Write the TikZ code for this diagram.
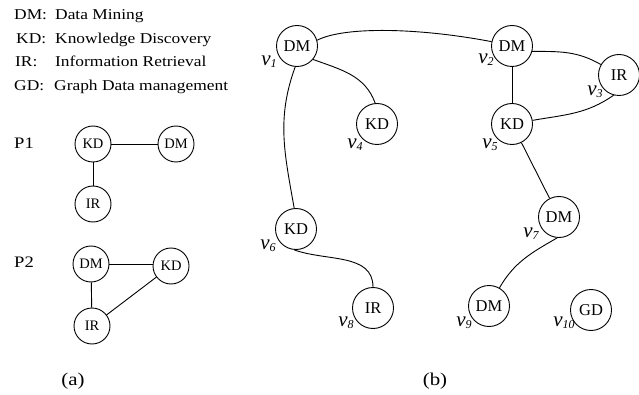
\documentclass[tikz,border=0pt]{standalone}
\usepackage{graphicx}
\usepackage{fontspec}
\setmainfont{Liberation Serif}
\newcommand\widetxt[1]{\scalebox{1.16}[1]{#1}}
\begin{document}
\begin{tikzpicture}[x=1pt,y=-1pt,
  bnode/.style={draw,circle,line width=0.9pt,minimum size=41pt,inner sep=0pt,font=\fontsize{16.5}{16.5}\selectfont},
  anode/.style={draw,circle,line width=0.9pt,minimum size=36pt,inner sep=0pt,font=\fontsize{14.5}{14.5}\selectfont},
  edge/.style={line width=0.9pt},
  txt/.style={anchor=base west,inner sep=0pt,font=\fontsize{15}{15}\selectfont},
  vlab/.style={inner sep=0pt,font=\fontsize{21}{21}\selectfont\itshape}]
\useasboundingbox (0,0) rectangle (639,395);
% legend
\node[txt] (l1a) at (14,20) {\widetxt{DM:}};
\node[txt] (l1b) at (55,20) {\widetxt{Data Mining}};
\node[txt] (l2a) at (16,43.5) {\widetxt{KD:}};
\node[txt] (l2b) at (55,43.5) {\widetxt{Knowledge Discovery}};
\node[txt] (l3a) at (15,67) {\widetxt{IR:}};
\node[txt] (l3b) at (55,67) {\widetxt{Information Retrieval}};
\node[txt] (l4a) at (14,90.5) {\widetxt{GD:}};
\node[txt] (l4b) at (54,90.5) {\widetxt{Graph Data management}};
% (a)
\node[inner sep=0pt,font=\fontsize{16}{16}\selectfont] (p1) at (24,143) {\widetxt{P1}};
\node[inner sep=0pt,font=\fontsize{16}{16}\selectfont] (p2) at (24,262) {\widetxt{P2}};
\node[anode] (a1kd) at (93,144) {KD};
\node[anode] (a1dm) at (176,144) {DM};
\node[anode] (a1ir) at (93,204) {IR};
\node[anode] (a2dm) at (91,264) {DM};
\node[anode] (a2kd) at (171,266) {KD};
\node[anode] (a2ir) at (92,326) {IR};
\draw[edge] (a1kd) -- (a1dm);
\draw[edge] (a1kd) -- (a1ir);
\draw[edge] (a2dm.east) -- (a2kd.west |- a2dm.east);
\draw[edge] (a2dm) -- (a2ir);
\draw[edge] (a2kd) -- (a2ir);
\node[inner sep=0pt,font=\fontsize{18}{18}\selectfont] (capa) at (73,381) {\widetxt{(a)}};
% (b)
\node[bnode] (v1) at (297,46) {DM};
\node[bnode] (v2) at (512,46) {DM};
\node[bnode] (v3) at (619,75) {IR};
\node[bnode] (v4) at (377,124) {KD};
\node[bnode] (v5) at (512,124) {KD};
\node[bnode] (v6) at (296,229) {KD};
\node[bnode] (v7) at (559,217) {DM};
\node[bnode] (v8) at (373,308) {IR};
\node[bnode] (v9) at (489,306) {DM};
\node[bnode] (v10) at (591,310) {GD};
\node[vlab] (t1) at (269,62) {v\raisebox{-0.2ex}{\fontsize{12}{12}\selectfont 1}};
\node[vlab] (t2) at (486,60) {v\raisebox{-0.2ex}{\fontsize{12}{12}\selectfont 2}};
\node[vlab] (t3) at (595,92) {v\raisebox{-0.2ex}{\fontsize{12}{12}\selectfont 3}};
\node[vlab] (t4) at (355,145) {v\raisebox{-0.2ex}{\fontsize{12}{12}\selectfont 4}};
\node[vlab] (t5) at (490,145) {v\raisebox{-0.2ex}{\fontsize{12}{12}\selectfont 5}};
\node[vlab] (t6) at (268,246) {v\raisebox{-0.2ex}{\fontsize{12}{12}\selectfont 6}};
\node[vlab] (t7) at (531,234) {v\raisebox{-0.2ex}{\fontsize{12}{12}\selectfont 7}};
\node[vlab] (t8) at (346,323) {v\raisebox{-0.2ex}{\fontsize{12}{12}\selectfont 8}};
\node[vlab] (t9) at (464,323) {v\raisebox{-0.2ex}{\fontsize{12}{12}\selectfont 9}};
\node[vlab] (t10) at (564,323) {v\raisebox{-0.2ex}{\fontsize{12}{12}\selectfont 10}};
\draw[edge] (v1.16) .. controls (345,26) and (420,28) .. (v2.168);
\draw[edge] (v2.-15) to[out=0,in=150] (v3.150);
\draw[edge] (v2) -- (v5);
\draw[edge] (v3.-105) to[out=-145,in=10] (v5.10);
\draw[edge] (v1.-40) to[out=-20,in=110] (v4.95);
\draw[edge] (v1.-95) to[out=-110,in=100] (v6.95);
\draw[edge] (v6.-95) to[out=-20,in=90] (v8.90);
\draw[edge] (v5) -- (v7);
\draw[edge] (v7.-95) to[out=210,in=60] (v9.60);
\node[inner sep=0pt,font=\fontsize{18}{18}\selectfont] (capb) at (435,381) {\widetxt{(b)}};
\end{tikzpicture}
\end{document}
